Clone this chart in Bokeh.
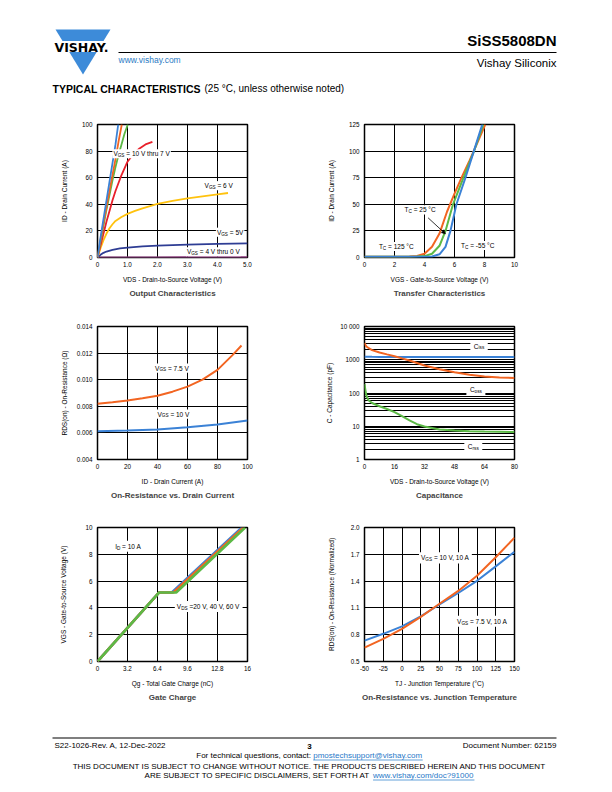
from bokeh.plotting import figure
from bokeh.models import Range1d, FixedTicker, Label, Arrow, NormalHead
from bokeh.layouts import column, row
from bokeh.embed import file_html
from bokeh.resources import INLINE

FONT = "Liberation Sans"
BLUE = "#3b82d6"
ORANGE = "#f26522"
GREEN = "#5cb946"
RED = "#e8202a"
YELLOW = "#ffc20e"
NAVY = "#2e3d94"
PURPLE = "#a0468f"
LINK = "#1f78c8"

# ---------------- data ----------------
# Output characteristics
oc_vds_10 = [0, 0.1, 0.2, 0.3, 0.4, 0.5, 0.6, 0.69]
oc_id_10 = [0, 15, 29, 43, 57, 71, 85, 100]
oc_vds_9 = [0, 0.1, 0.2, 0.3, 0.4, 0.5, 0.6, 0.7, 0.81]
oc_id_9 = [0, 13, 26, 38, 50, 62, 74, 87, 100]
oc_vds_8 = [0, 0.1, 0.2, 0.3, 0.4, 0.5, 0.6, 0.7, 0.8, 0.9, 1.01]
oc_id_8 = [0, 12, 24, 36, 47, 58, 68, 77, 85, 93, 100]
oc_vds_7 = [0, 0.1, 0.2, 0.3, 0.4, 0.5, 0.6, 0.7, 0.8, 0.9, 1.0, 1.2, 1.4, 1.6, 1.83]
oc_id_7 = [0, 9, 18, 27, 35, 43, 50, 56, 62, 67, 72, 78, 82, 85, 87]
oc_vds_6 = [0, 0.1, 0.2, 0.3, 0.4, 0.5, 0.6, 0.8, 1.0, 1.25, 1.5, 2.0, 2.5, 3.0, 3.5, 4.0, 4.35]
oc_id_6 = [0, 7, 13, 18, 22, 25, 27.5, 30.5, 32.8, 35, 37, 40.3, 42.5, 44.5, 46, 47.5, 48.5]
oc_vds_5 = [0, 0.1, 0.2, 0.3, 0.5, 0.75, 1.0, 1.5, 2.0, 2.5, 3.0, 4.0, 5.0]
oc_id_5 = [0, 2, 3.5, 4.5, 5.8, 6.8, 7.4, 8.3, 8.9, 9.3, 9.7, 10.2, 10.6]
oc_vds_4 = [0, 1, 2, 3, 4, 5]
oc_id_4 = [0, 0.1, 0.15, 0.2, 0.2, 0.25]
oc_xticks = [0, 1, 2, 3, 4, 5]
oc_xlabels = ["0", "1.0", "2.0", "3.0", "4.0", "5.0"]
oc_yticks = [0, 20, 40, 60, 80, 100]

# Transfer characteristics
tr_vgs_125 = [0, 1, 2, 3, 3.5, 4.0, 4.5, 5.0, 5.5, 6.0, 6.5, 7.0, 7.5, 8.05]
tr_id_125 = [0.8, 0.8, 0.8, 0.9, 1.5, 3.5, 10, 22.5, 43, 60, 76, 91, 107, 125]
tr_vgs_25 = [0, 1, 2, 3, 3.5, 4.0, 4.5, 5.0, 5.4, 5.9, 6.6, 7.3, 7.92]
tr_id_25 = [0.8, 0.8, 0.8, 0.8, 0.9, 1.3, 3.5, 11, 25, 50, 75, 100, 125]
tr_vgs_m55 = [0, 1, 2, 3, 4.0, 4.5, 5.0, 5.4, 5.73, 6.13, 6.73, 7.29, 7.85]
tr_id_m55 = [0.8, 0.8, 0.8, 0.8, 0.8, 1.0, 3, 10, 25, 50, 75, 100, 125]
tr_xticks = [0, 2, 4, 6, 8, 10]
tr_yticks = [0, 25, 50, 75, 100, 125]

# On-resistance vs drain current
rd_id_75 = [0, 10, 20, 30, 40, 50, 60, 70, 80, 90, 96]
rd_r_75 = [0.00819, 0.00830, 0.00843, 0.00860, 0.00880, 0.00910, 0.00948, 0.01000, 0.01074, 0.01185, 0.01257]
rd_id_10 = [0, 20, 40, 60, 80, 100]
rd_r_10 = [0.00613, 0.00618, 0.00626, 0.00642, 0.00663, 0.00693]
rd_xticks = [0, 20, 40, 60, 80, 100]
rd_yticks = [0.004, 0.006, 0.008, 0.010, 0.012, 0.014]
rd_ylabels = ["0.004", "0.006", "0.008", "0.010", "0.012", "0.014"]

# Capacitance
cap_vds = [0, 0.5, 1, 2, 4, 8, 12, 16, 20, 24, 28, 32, 40, 48, 56, 64, 72, 80]
cap_ciss = [1230, 1228, 1226, 1224, 1222, 1220, 1217, 1214, 1212, 1210, 1208, 1206, 1204, 1202, 1201, 1200, 1200, 1200]
cap_coss = [3200, 2800, 2500, 2300, 1950, 1650, 1450, 1280, 1100, 950, 800, 670, 520, 420, 355, 315, 295, 285]
cap_crss = [189, 120, 84, 62, 50, 40, 33, 26.5, 20, 15, 11.5, 9.8, 8, 7.4, 7.1, 6.9, 6.8, 6.7]
cap_xticks = [0, 16, 32, 48, 64, 80]
cap_yticks = [1, 10, 100, 1000, 10000]
cap_ylabels = ["1", "10", "100", "1000", "10 000"]

# Gate charge
gc_qg_20 = [0, 6.58, 7.93, 15.4]
gc_vgs_20 = [0, 5.15, 5.15, 10]
gc_qg_40 = [0, 6.58, 8.1, 15.57]
gc_vgs_40 = [0, 5.15, 5.15, 10]
gc_qg_60 = [0, 6.58, 8.39, 15.75]
gc_vgs_60 = [0, 5.15, 5.15, 10]
gc_xticks = [0, 3.2, 6.4, 9.6, 12.8, 16]
gc_yticks = [0, 2, 4, 6, 8, 10]

# On-resistance vs junction temperature
jt_tj = [-50, -25, 0, 25, 50, 75, 100, 125, 150]
jt_blue = [0.734, 0.81, 0.893, 1.006, 1.138, 1.267, 1.403, 1.565, 1.728]
jt_orange = [0.655, 0.753, 0.866, 0.999, 1.146, 1.29, 1.46, 1.667, 1.886]
jt_xticks = [-50, -25, 0, 25, 50, 75, 100, 125, 150]
jt_xlabels = ["-50", "-25", "0", "25", "50", "75", "100", "125", "150"]
jt_yticks = [0.5, 0.8, 1.1, 1.4, 1.7, 2.0]
jt_ylabels = ["0.5", "0.8", "1.1", "1.4", "1.7", "2.0"]

# ---------------- text helpers ----------------
AW = {}
for c in "ABEKPSVXY":
    AW[c] = .667
for c in "CDHNRU":
    AW[c] = .722
AW.update({"F": .611, "T": .611, "Z": .611, "L": .556, "G": .778, "O": .778, "Q": .778,
           "M": .833, "W": .944, "I": .278, "J": .5})
for c in "0123456789":
    AW[c] = .556
AW.update({"i": .222, "j": .222, "l": .222, "f": .278, "t": .278, "r": .333, "c": .5, "k": .5,
           "s": .5, "v": .5, "x": .5, "y": .5, "z": .5, "m": .833, "w": .722,
           " ": .278, ".": .278, ",": .278, ":": .278, "-": .333, "=": .584, "(": .333, ")": .333,
           "°": .4, "@": 1.015, "/": .278, "?": .556, "Ω": .768})


def tw(t, size):
    return sum(AW.get(ch, .556) for ch in t) * size


def run(p, x, y, parts, align="left", bg=None, padx=1, pady=0.5):
    widths = [tw(pt["t"], pt["s"]) for pt in parts]
    total = sum(widths)
    off0 = {"left": 0, "center": -total / 2, "right": -total}[align]
    if bg is not None:
        dpp = (p.x_range.end - p.x_range.start) / p.frame_width
        size = max(pt["s"] for pt in parts)
        p.rect(x=[x + (off0 + total / 2) * dpp], y=[y], width=[total + 2 * padx],
               height=[size * 1.25 + 2 * pady], width_units="screen", height_units="screen",
               fill_color=bg, line_color=None, level="guide")
    off = off0
    for pt, w in zip(parts, widths):
        txt = pt["t"]
        stripped = txt.lstrip(" ")
        lead = tw(txt[:len(txt) - len(stripped)], pt["s"])
        p.add_layout(Label(x=x, y=y, x_offset=off + lead, y_offset=pt.get("dy", 0), text=stripped,
                           text_font=FONT, text_font_size=f"{pt['s']:.2f}px",
                           text_font_style="bold" if pt.get("b") else "normal",
                           text_color=pt.get("c", "black"), text_align="left",
                           text_baseline="middle"))
        off += w
    return total


def vsub(main, sub, rest, size=6.5):
    return [dict(t=main, s=size), dict(t=sub, s=size * 0.72, dy=-1.8), dict(t=rest, s=size)]


# ---------------- chart factory ----------------
def chart(xr, yr, xticks, yticks, xlabel, ylabel, title, col, fh, top, bottom, ylab_sd,
          y_log=False, xgrid=True, xover=None, yover=None, yminor=None):
    left, right = (97, 59) if col == 0 else (58, 90)
    p = figure(frame_width=150, frame_height=fh, min_border_left=left, min_border_right=right,
               min_border_top=top, min_border_bottom=bottom,
               x_range=Range1d(*xr), y_range=Range1d(*yr),
               y_axis_type="log" if y_log else "linear",
               output_backend="svg", toolbar_location=None,
               title=title, title_location="below")
    p.title.align = "center"
    p.title.text_font = FONT
    p.title.text_font_size = "8px"
    p.title.text_font_style = "bold"
    p.title.standoff = 3
    p.xaxis.ticker = FixedTicker(ticks=xticks)
    if yminor is not None:
        p.yaxis.ticker = FixedTicker(ticks=yticks, minor_ticks=yminor)
    else:
        p.yaxis.ticker = FixedTicker(ticks=yticks)
    if xover:
        p.xaxis.major_label_overrides = xover
    if yover:
        p.yaxis.major_label_overrides = yover
    for ax in p.axis:
        ax.axis_line_color = None
        ax.major_tick_line_color = None
        ax.minor_tick_line_color = None
        ax.major_tick_out = 0
        ax.major_tick_in = 0
        ax.minor_tick_out = 0
        ax.minor_tick_in = 0
        ax.major_label_text_font = FONT
        ax.major_label_text_font_size = "6.3px"
        ax.major_label_text_color = "black"
        ax.axis_label_text_font = FONT
        ax.axis_label_text_font_size = "6.5px"
        ax.axis_label_text_font_style = "normal"
        ax.axis_label_text_color = "black"
    p.xaxis.axis_label = xlabel
    p.yaxis.axis_label = ylabel
    p.xaxis.major_label_standoff = 4
    p.xaxis.axis_label_standoff = 6
    p.yaxis.major_label_standoff = 5
    p.yaxis.axis_label_standoff = ylab_sd
    p.grid.grid_line_color = "black"
    p.grid.grid_line_width = 1
    p.grid.grid_line_alpha = 1
    if not xgrid:
        p.xgrid.grid_line_color = None
    if yminor is not None:
        p.ygrid.minor_grid_line_color = "black"
        p.ygrid.minor_grid_line_width = 1
    p.outline_line_color = "black"
    p.outline_line_width = 1.5
    p.background_fill_color = "white"
    p.border_fill_color = "white"
    return p


# ---- 1 Output characteristics
c1 = chart((0, 5), (0, 100), oc_xticks, oc_yticks, "VDS - Drain-to-Source Voltage (V)",
           "ID - Drain Current (A)", "Output Characteristics", 0, 133, 14, 53, 11,
           xover={t: l for t, l in zip(oc_xticks, oc_xlabels)})
c1.line(oc_vds_4, oc_id_4, color=PURPLE, line_width=1.8)
c1.line(oc_vds_5, oc_id_5, color=NAVY, line_width=1.8)
c1.line(oc_vds_6, oc_id_6, color=YELLOW, line_width=1.8)
c1.line(oc_vds_7, oc_id_7, color=RED, line_width=1.8)
c1.line(oc_vds_8, oc_id_8, color=GREEN, line_width=1.8)
c1.line(oc_vds_9, oc_id_9, color=ORANGE, line_width=1.8)
c1.line(oc_vds_10, oc_id_10, color=BLUE, line_width=1.8)
run(c1, 0.53, 78, vsub("V", "GS", " = 10 V thru 7 V"), bg="white")
run(c1, 3.57, 54, vsub("V", "GS", " = 6 V"), bg="white")
run(c1, 3.98, 19, vsub("V", "GS", " = 5V"), bg="white")
run(c1, 2.98, 4.3, vsub("V", "GS", " = 4 V thru 0 V"), bg="white")

# ---- 2 Transfer characteristics
c2 = chart((0, 10), (0, 125), tr_xticks, tr_yticks, "VGS - Gate-to-Source Voltage (V)",
           "ID - Drain Current (A)", "Transfer Characteristics", 1, 133, 14, 53, 11)
c2.line(tr_vgs_125, tr_id_125, color=ORANGE, line_width=2)
c2.line(tr_vgs_25, tr_id_25, color=GREEN, line_width=2)
c2.line(tr_vgs_m55, tr_id_m55, color=BLUE, line_width=2)
run(c2, 2.67, 44.8, vsub("T", "C", " = 25 °C"), bg="white")
run(c2, 0.96, 10.3, vsub("T", "C", " = 125 °C"), bg="white")
run(c2, 6.44, 11.3, vsub("T", "C", " = -55 °C"), bg="white")
c2.add_layout(Arrow(end=NormalHead(size=4, fill_color="black", line_color="black", line_width=0.5),
                    x_start=4.24, y_start=37.3, x_end=5.4, y_end=22.2, line_width=0.8))

# ---- 3 On-resistance vs drain current
c3 = chart((0, 100), (0.004, 0.014), rd_xticks, rd_yticks, "ID - Drain Current (A)",
           "RDS(on) - On-Resistance (Ω)", "On-Resistance vs. Drain Current", 0, 133, 16, 51, 6,
           yover={t: l for t, l in zip(rd_yticks, rd_ylabels)})
c3.line(rd_id_75, rd_r_75, color=ORANGE, line_width=2)
c3.line(rd_id_10, rd_r_10, color=BLUE, line_width=2)
run(c3, 38.4, 0.01087, vsub("V", "GS", " = 7.5 V"), bg="white")
run(c3, 40, 0.00741, vsub("V", "GS", " = 10 V"), bg="white")

# ---- 4 Capacitance
cap_minor = [m * 10 ** e for e in range(0, 4) for m in range(2, 10)]
c4 = chart((0, 80), (1, 10000), cap_xticks, cap_yticks, "VDS - Drain-to-Source Voltage (V)",
           "C - Capacitance (pF)", "Capacitance", 1, 133, 16, 51, 4, y_log=True, xgrid=False,
           yover={t: l for t, l in zip(cap_yticks, cap_ylabels)}, yminor=cap_minor)
c4.line(cap_vds, cap_ciss, color=BLUE, line_width=2)
c4.line(cap_vds, cap_coss, color=ORANGE, line_width=2)
c4.line(cap_vds, cap_crss, color=GREEN, line_width=2)
run(c4, 58.3, 2570, [dict(t="C", s=6.5), dict(t="iss", s=4.7, dy=-1.8)], bg="white", padx=3.5, pady=2)
run(c4, 56.2, 127, [dict(t="C", s=6.5), dict(t="oss", s=4.7, dy=-1.8)], bg="white", padx=3.5, pady=2)
run(c4, 55.1, 2.5, [dict(t="C", s=6.5), dict(t="rss", s=4.7, dy=-1.8)], bg="white", padx=3.5, pady=2)

# ---- 5 Gate charge
c5 = chart((0, 16), (0, 10), gc_xticks, gc_yticks, "Qg - Total Gate Charge (nC)",
           "VGS - Gate-to-Source Voltage (V)", "Gate Charge", 0, 134, 17, 54, 15)
c5.line(gc_qg_20, gc_vgs_20, color=BLUE, line_width=2.6)
c5.line(gc_qg_40, gc_vgs_40, color=ORANGE, line_width=2.6)
c5.line(gc_qg_60, gc_vgs_60, color=GREEN, line_width=2.6)
run(c5, 1.88, 8.6, vsub("I", "D", " = 10 A"), bg="white", padx=3, pady=1.5)
run(c5, 8.46, 4.1, vsub("V", "DS", " =20 V, 40 V, 60 V"), bg="white", padx=2, pady=1.5)

# ---- 6 On-resistance vs junction temperature
c6 = chart((-50, 150), (0.5, 2.0), jt_xticks, jt_yticks, "TJ - Junction Temperature (°C)",
           "RDS(on) - On-Resistance (Normalized)", "On-Resistance vs. Junction Temperature",
           1, 134, 17, 54, 13,
           xover={t: l for t, l in zip(jt_xticks, jt_xlabels)},
           yover={t: l for t, l in zip(jt_yticks, jt_ylabels)})
c6.line(jt_tj, jt_blue, color=BLUE, line_width=2)
c6.line(jt_tj, jt_orange, color=ORANGE, line_width=2)
run(c6, 25.3, 1.66, vsub("V", "GS", " = 10 V, 10 A"), bg="white", padx=2, pady=1.5)
run(c6, 73.4, 0.95, vsub("V", "GS", " = 7.5 V, 10 A"), bg="white", padx=2, pady=1.5)


# ---------------- header & footer ----------------
def canvas(h, y0):
    p = figure(width=604, height=h, x_range=Range1d(0, 604), y_range=Range1d(y0 + h, y0),
               min_border=0, x_axis_location=None, y_axis_location=None,
               output_backend="svg", toolbar_location=None)
    p.grid.grid_line_color = None
    p.outline_line_color = None
    p.background_fill_color = "white"
    p.border_fill_color = "white"
    return p


def lab(p, x, y, text, size, align="left", bold=False, color="black", font=FONT):
    p.add_layout(Label(x=x, y=y, text=text, text_font=font, text_font_size=f"{size}px",
                       text_font_style="bold" if bold else "normal", text_color=color,
                       text_align=align, text_baseline="middle"))


# header: page coordinates 0..110
hd = canvas(110, 0)
hd.patch([55, 110, 82.5], [29, 29, 74], color="#3d8bd9", line_color=None)
hd.quad(left=[44], right=[116], top=[40.5], bottom=[51.5], color="white", line_color=None)
lab(hd, 81, 46.5, "VISHAY.", 12.5, align="center", bold=True, font="DejaVu Sans")
hd.line([118, 556], [52, 52], color="black", line_width=1.2)
lab(hd, 556, 40, "SiSS5808DN", 15, align="right", bold=True)
lab(hd, 118, 59.5, "www.vishay.com", 8.5, color="#2b7bc4")
lab(hd, 556, 62, "Vishay Siliconix", 11.5, align="right")
lab(hd, 52, 88, "TYPICAL CHARACTERISTICS", 10.5, bold=True)
lab(hd, 204, 88, "(25 °C, unless otherwise noted)", 10)

# footer: page coordinates 715..787
ft = canvas(72, 715)
ft.line([52, 556], [737.5, 737.5], color="black", line_width=1.2)
lab(ft, 54, 745, "S22-1026-Rev. A, 12-Dec-2022", 8)
lab(ft, 309, 746, "3", 8, align="center", bold=True)
lab(ft, 556, 745, "Document Number: 62159", 8, align="right")
l1a = "For technical questions, contact: "
l1b = "pmostechsupport@vishay.com"
tot1 = tw(l1a, 8) + tw(l1b, 8)
x1 = 309 - tot1 / 2
lab(ft, x1, 755, l1a, 8)
lab(ft, x1 + tw(l1a, 8), 755, l1b, 8, color=LINK)
ft.line([x1 + tw(l1a, 8), x1 + tot1], [759.5, 759.5], color=LINK, line_width=0.7)
lab(ft, 309, 766, "THIS DOCUMENT IS SUBJECT TO CHANGE WITHOUT NOTICE. THE PRODUCTS DESCRIBED HEREIN AND THIS DOCUMENT", 8, align="center")
l3a = "ARE SUBJECT TO SPECIFIC DISCLAIMERS, SET FORTH AT "
l3b = "www.vishay.com/doc?91000"
tot3 = tw(l3a, 8) + tw(l3b, 8)
x3 = 309 - tot3 / 2
lab(ft, x3, 775, l3a, 8)
lab(ft, x3 + tw(l3a, 8), 775, l3b, 8, color=LINK)
ft.line([x3 + tw(l3a, 8), x3 + tot3], [779.5, 779.5], color=LINK, line_width=0.7)

layout = column(hd, row(c1, c2), row(c3, c4), row(c5, c6), ft)
open("out.html", "w").write(file_html(layout, INLINE))
